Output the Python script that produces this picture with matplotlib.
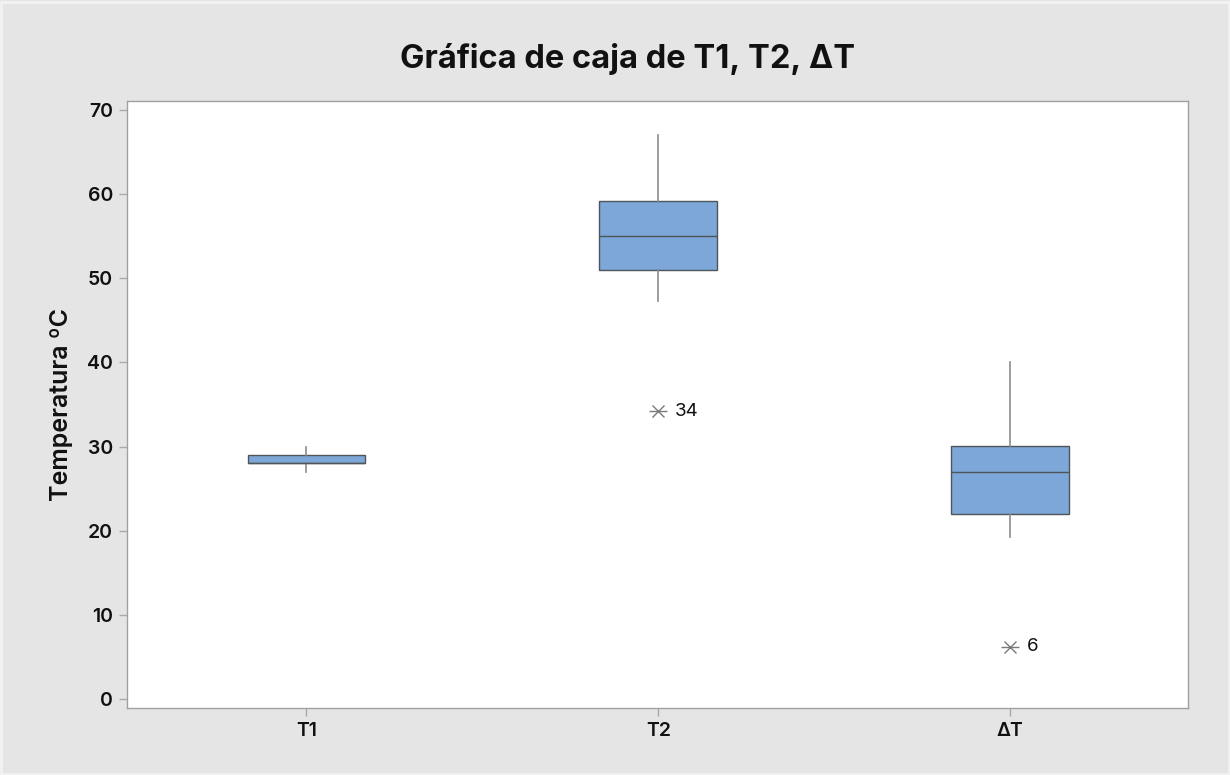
import matplotlib
matplotlib.use("Agg")
import matplotlib.pyplot as plt
from matplotlib.patches import Rectangle

plt.rcParams['font.family'] = ['Inter', 'DejaVu Sans']

categories = ['T1', 'T2', 'ΔT']
whislo = [27.0, 47.3, 19.2]
q1 = [28.0, 51.0, 22.0]
med = [28.0, 55.1, 27.0]
q3 = [29.0, 59.2, 30.1]
whishi = [30.0, 67.0, 40.0]
outlier_vals = [[], [34.2], [6.2]]
outlier_labels = [[], ['34'], ['6']]
yticks = [0, 10, 20, 30, 40, 50, 60, 70]

stats = []
for i, c in enumerate(categories):
    stats.append(dict(label=c, whislo=whislo[i], q1=q1[i], med=med[i],
                      q3=q3[i], whishi=whishi[i], fliers=[]))

fig = plt.figure(figsize=(12.3, 7.75), dpi=100)
fig.patch.set_facecolor('#e5e5e5')
fig.patches.append(Rectangle((0.001, 0.001), 0.998, 0.996, transform=fig.transFigure,
                             fill=False, edgecolor='#f2f2f2', linewidth=2))
ax = fig.add_axes([127/1230, 1 - 708/775, (1188-127)/1230, (708-101)/775])
ax.set_facecolor('white')

positions = [1, 2, 3]
ax.bxp(stats, positions=positions, widths=0.335, patch_artist=True, showcaps=False,
       showfliers=False,
       boxprops=dict(facecolor='#7da7d9', edgecolor='#4f5559', linewidth=1.0),
       medianprops=dict(color='#4f5559', linewidth=1.0),
       whiskerprops=dict(color='#8c8c8c', linewidth=1.2))

for i, (vals, labs) in enumerate(zip(outlier_vals, outlier_labels)):
    for v, l in zip(vals, labs):
        ax.plot([positions[i]], [v], marker='x', markersize=9, color='#7a7a7a',
                markeredgewidth=1.0, linestyle='none')
        ax.plot([positions[i]], [v], marker='_', markersize=13, color='#7a7a7a',
                markeredgewidth=1.0, linestyle='none')
        ax.annotate(l, (positions[i], v), xytext=(12, 0), textcoords='offset points',
                    va='center', ha='left', fontsize=13.5, color='#111111')

ax.set_xlim(0.49, 3.505)
ax.set_ylim(-1.1, 71.1)
ax.set_yticks(yticks)
ax.set_xticks(positions)
ax.set_xticklabels(categories)
for s in ax.spines.values():
    s.set_color('#a0a0a0')
    s.set_linewidth(1.0)
ax.tick_params(axis='both', direction='out', length=6, width=1, color='#a8a8a8',
               labelsize=14, labelcolor='#111111', pad=4)
for lab in ax.get_xticklabels() + ax.get_yticklabels():
    lab.set_fontweight(600)

ax.set_ylabel('Temperatura ºC', fontsize=18, fontweight=600, color='#111111', labelpad=10)
fig.text(628/1230, 1 - 59/775, 'Gráfica de caja de T1, T2, ΔT', ha='center', va='center',
         fontsize=23.5, fontweight=700, color='#111111')

fig.savefig('out.png', dpi=100, facecolor=fig.get_facecolor())
